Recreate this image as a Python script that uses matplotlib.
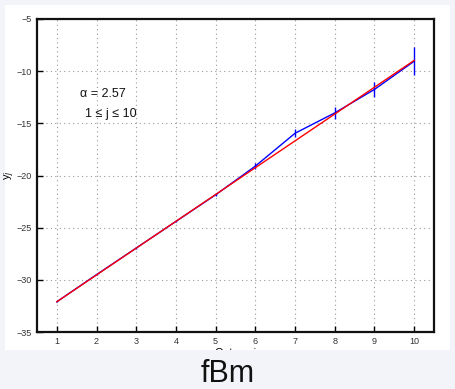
import matplotlib
matplotlib.use('Agg')
import matplotlib.pyplot as plt
from matplotlib.patches import Rectangle

plt.rcParams['font.family'] = ['Liberation Sans', 'DejaVu Sans']

octaves = [1, 2, 3, 4, 5, 6, 7, 8, 9, 10]
yj = [-32.1, -29.5, -26.95, -24.4, -21.85, -19.1, -15.95, -14.0, -11.75, -9.05]
yj_err = [0.05, 0.05, 0.07, 0.1, 0.15, 0.3, 0.4, 0.55, 0.75, 1.35]
fit_x = [1, 10]
fit_y = [-32.1, -8.97]
alpha = 2.57
j1, j2 = 1, 10

fig = plt.figure(figsize=(4.55, 3.89), dpi=100, facecolor='#f3f3fa')
panel = Rectangle((5 / 455, 1 - 350 / 389), 445 / 455, 345 / 389,
                  transform=fig.transFigure, facecolor='white', edgecolor='none', zorder=-5)
fig.patches.append(panel)

ax = fig.add_axes([37 / 455, 1 - 332 / 389, 397 / 455, 313 / 389])
ax.set_facecolor('white')

ax.errorbar(octaves, yj, yerr=yj_err, color='#0000ff', lw=1, elinewidth=1, capsize=0, zorder=2)
ax.plot(fit_x, fit_y, color='#ff0000', lw=1, zorder=3)

ax.set_xlim(0.5, 10.5)
ax.set_ylim(-35, -5)
ax.set_xticks(octaves)
ax.set_yticks([-35, -30, -25, -20, -15, -10, -5])
ax.set_yticklabels(['\u221235', '\u221230', '\u221225', '\u221220', '\u221215', '\u221210', '\u22125'])
ax.tick_params(direction='in', labelsize=6.5, labelcolor='#333333', length=4, width=1)
ax.grid(True, linestyle=(0, (1, 3)), color='#999999', linewidth=0.8)
for s in ax.spines.values():
    s.set_linewidth(1.6)
    s.set_color('#111111')

ax.text(2.15, -12.2, '\u03b1 = %.2f' % alpha, fontsize=9, color='#111111', ha='center', va='center')
ax.text(2.35, -14.1, '%d \u2264 j \u2264 %d' % (j1, j2), fontsize=9, color='#111111', ha='center', va='center')

ylab = ax.set_ylabel('y$_j$', fontsize=8)
ax.yaxis.set_label_coords(-0.05, 0.5)
xlab = ax.set_xlabel('Octave j', fontsize=8)
ax.xaxis.set_label_coords(0.5, -0.05)
xlab.set_clip_path(panel)

fig.text(0.5, 1 - 374 / 389, 'fBm', fontsize=22, ha='center', va='center', color='#111111')

fig.savefig('out.png', dpi=100, facecolor=fig.get_facecolor())
